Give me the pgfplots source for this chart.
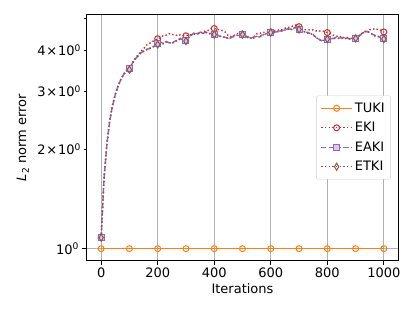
\documentclass[border=0pt]{standalone}
\usepackage{pgfplots}
\usepackage{pgfplotstable}
\pgfplotsset{compat=1.18}
\usepackage{fontspec}
\setmainfont{DejaVu Sans}
\definecolor{tOrange}{HTML}{FF7F0E}
\definecolor{tRed}{HTML}{D62728}
\definecolor{tPurple}{HTML}{9467BD}
\definecolor{tBrown}{HTML}{8C564B}
\definecolor{gridc}{HTML}{B0B0B0}

\pgfplotstableread{
x eki eaki etki
0 1.08 1.08 1.08
10 1.62 1.62 1.62
20 2.07 2.06 2.06
30 2.44 2.43 2.43
40 2.72 2.71 2.71
50 2.94 2.93 2.93
60 3.12 3.11 3.11
70 3.27 3.26 3.26
80 3.39 3.38 3.37
90 3.47 3.46 3.45
100 3.50 3.51 3.49
110 3.66 3.64 3.63
120 3.78 3.76 3.74
130 3.86 3.83 3.84
140 3.96 3.93 3.91
150 4.03 3.96 3.97
160 4.14 4.02 4.00
170 4.18 4.04 4.05
180 4.25 4.09 4.07
190 4.27 4.11 4.12
200 4.33 4.18 4.16
210 4.36 4.23 4.21
220 4.43 4.19 4.18
230 4.44 4.25 4.23
240 4.49 4.21 4.22
250 4.46 4.20 4.18
260 4.46 4.25 4.24
270 4.42 4.29 4.28
280 4.45 4.34 4.31
290 4.43 4.29 4.30
300 4.42 4.27 4.26
310 4.45 4.39 4.36
320 4.45 4.45 4.44
330 4.47 4.52 4.49
340 4.47 4.48 4.49
350 4.53 4.53 4.51
360 4.53 4.49 4.50
370 4.58 4.54 4.52
380 4.59 4.50 4.50
390 4.65 4.49 4.46
400 4.65 4.46 4.46
410 4.61 4.45 4.42
420 4.61 4.40 4.41
430 4.58 4.41 4.38
440 4.53 4.37 4.38
450 4.42 4.35 4.32
460 4.40 4.36 4.37
470 4.43 4.43 4.40
480 4.49 4.43 4.44
490 4.49 4.43 4.40
500 4.47 4.46 4.46
510 4.43 4.41 4.42
520 4.35 4.39 4.36
530 4.35 4.35 4.36
540 4.39 4.38 4.35
550 4.48 4.40 4.40
560 4.49 4.38 4.39
570 4.53 4.45 4.42
580 4.52 4.47 4.48
590 4.55 4.51 4.49
600 4.54 4.51 4.52
610 4.58 4.54 4.51
620 4.58 4.54 4.55
630 4.61 4.57 4.54
640 4.61 4.57 4.58
650 4.66 4.63 4.60
660 4.67 4.63 4.64
670 4.72 4.63 4.60
680 4.73 4.65 4.66
690 4.77 4.71 4.68
700 4.71 4.61 4.62
710 4.67 4.57 4.54
720 4.61 4.53 4.54
730 4.61 4.53 4.50
740 4.60 4.49 4.50
750 4.61 4.46 4.43
760 4.57 4.37 4.38
770 4.58 4.32 4.29
780 4.55 4.27 4.28
790 4.56 4.31 4.28
800 4.52 4.31 4.32
810 4.50 4.36 4.33
820 4.44 4.33 4.34
830 4.43 4.37 4.34
840 4.38 4.34 4.35
850 4.40 4.37 4.34
860 4.36 4.34 4.35
870 4.37 4.35 4.32
880 4.34 4.32 4.33
890 4.35 4.36 4.33
900 4.33 4.33 4.34
910 4.41 4.41 4.38
920 4.46 4.47 4.48
930 4.53 4.56 4.53
940 4.54 4.56 4.57
950 4.61 4.53 4.50
960 4.62 4.46 4.47
970 4.65 4.43 4.40
980 4.61 4.39 4.40
990 4.59 4.37 4.34
1000 4.54 4.33 4.32
}\errdata

\pgfplotstableread{
x tuki
0 1
100 1
200 1
300 1
400 1
500 1
600 1
700 1
800 1
900 1
1000 1
}\tukidata

\begin{document}
\begin{tikzpicture}
\begin{axis}[
  scale only axis,
  width=311pt, height=245pt,
  at={(0pt,0pt)}, anchor=south west,
  xmin=-50, xmax=1050,
  ymode=log, ymin=0.924, ymax=5.11,
  font=\fontsize{13}{15.6}\selectfont,
  /pgf/number format/assume math mode=true,
  /pgf/number format/set thousands separator={},
  xtick={0,200,...,1000},
  ytick={1}, yticklabels={10\textsuperscript{0}},
  extra y ticks={2,3,4,5},
  extra y tick labels={2{\kern0.8pt}×{\kern0.8pt}10\textsuperscript{0},3{\kern0.8pt}×{\kern0.8pt}10\textsuperscript{0},4{\kern0.8pt}×{\kern0.8pt}10\textsuperscript{0},{}},
  extra y tick style={grid=none, major tick length=2.6pt, tick style={line width=0.6pt}},
  yminorticks=false, xminorticks=false,
  tick align=outside, tick pos=left,
  major tick length=4.6pt,
  tick style={line width=0.8pt, black},
  xmajorgrids, ymajorgrids,
  major grid style={line width=0.8pt, gridc},
  axis line style={line width=1pt},
  xlabel={Iterations},
  ylabel={{\itshape L}\textsubscript{2} norm error},
  xlabel style={yshift=1pt},
  ylabel style={yshift=-3pt},
  legend style={at={(rel axis cs:0.977,0.5)}, anchor=east, draw=gridc!60, rounded corners=2pt,
    fill=white, font=\fontsize{13}{15.6}\selectfont, row sep=4.5pt, inner xsep=4pt, inner ysep=5pt},
  legend cell align=left,
  legend image code/.code={\draw[mark repeat=2,mark phase=2] plot coordinates {(0pt,0pt)(15.5pt,0pt)(31pt,0pt)};},
]
\addplot[tOrange, line width=1.4pt, mark=o, mark size=3pt, mark options={solid, line width=1pt}] table[x=x,y=tuki] {\tukidata};
\addlegendentry{TUKI}
\addplot[tRed, line width=1.4pt, dash pattern=on 1.4pt off 2.3pt, mark=o, mark size=3pt, mark repeat=10, mark options={solid, line width=1pt}] table[x=x,y=eki] {\errdata};
\addlegendentry{EKI}
\addplot[tPurple, line width=1.4pt, dash pattern=on 5.2pt off 2.2pt, mark=square*, mark size=3pt, mark repeat=10, mark options={solid, line width=1pt, fill=tPurple!35}] table[x=x,y=eaki] {\errdata};
\addlegendentry{EAKI}
\addplot[tBrown, line width=1.4pt, dash pattern=on 1.4pt off 2.3pt, mark=diamond, mark size=3.6pt, mark repeat=10, mark options={solid, line width=1pt, xscale=0.8}] table[x=x,y=etki] {\errdata};
\addlegendentry{ETKI}
\end{axis}
\pgfresetboundingbox
\useasboundingbox (-87pt,-51pt) rectangle (328pt,260pt);
\end{tikzpicture}
\end{document}
